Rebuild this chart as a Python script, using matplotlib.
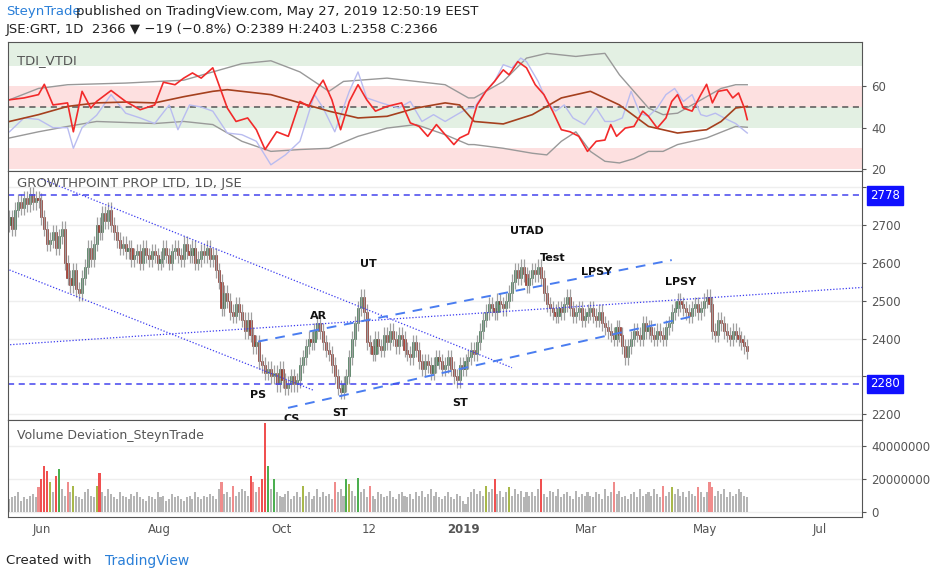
import numpy as np
import pandas as pd
import matplotlib
matplotlib.use("Agg")
import matplotlib.pyplot as plt

# ---------------- data ----------------
closes = [2720,2690,2740,2760,2745,2770,2755,2780,2760,2770,
          2765,2720,2690,2650,2660,2680,2640,2670,2690,2600,
          2560,2540,2580,2530,2520,2560,2590,2640,2610,2650,
          2700,2680,2730,2710,2740,2700,2680,2660,2640,2650,
          2630,2640,2610,2620,2630,2600,2640,2620,2610,2630,
          2620,2600,2610,2640,2620,2600,2630,2640,2620,2610,
          2650,2630,2620,2640,2600,2610,2630,2620,2640,2610,
          2620,2580,2550,2480,2520,2500,2470,2460,2490,2470,
          2450,2420,2450,2410,2380,2390,2340,2330,2310,2320,
          2300,2310,2280,2320,2290,2270,2280,2300,2280,2290,
          2330,2350,2380,2400,2390,2420,2440,2420,2390,2370,
          2360,2330,2300,2270,2260,2280,2300,2350,2400,2440,
          2480,2510,2470,2390,2380,2360,2400,2380,2370,2410,
          2390,2420,2400,2380,2410,2400,2370,2360,2350,2390,
          2370,2340,2320,2340,2330,2310,2330,2350,2340,2320,
          2330,2350,2320,2300,2290,2330,2320,2340,2350,2370,
          2360,2390,2420,2450,2470,2490,2480,2470,2500,2490,
          2480,2500,2520,2550,2580,2560,2590,2570,2540,2560,
          2580,2570,2590,2560,2520,2490,2480,2470,2460,2480,
          2470,2490,2510,2480,2460,2470,2480,2450,2460,2470,
          2480,2460,2450,2470,2440,2430,2420,2410,2400,2430,
          2410,2380,2350,2380,2400,2420,2410,2400,2440,2420,
          2430,2410,2400,2420,2410,2400,2430,2440,2470,2480,
          2500,2490,2480,2470,2460,2480,2490,2470,2480,2500,
          2510,2490,2420,2410,2450,2440,2420,2410,2400,2420,
          2410,2400,2390,2380,2366]
first_open = 2700
volumes_m = [8,9,10,12,7,9,8,10,11,9,
             15,20,28,25,18,12,22,26,14,10,
             18,12,16,10,9,8,12,14,10,9,
             16,24,12,10,14,11,9,8,12,10,
             9,8,11,10,12,9,8,7,10,9,
             8,12,9,10,7,8,11,9,10,8,
             7,9,10,8,12,9,8,10,9,11,
             10,8,14,18,11,12,9,16,10,12,
             14,13,10,22,18,12,15,20,54,28,
             14,20,12,10,9,11,13,8,10,12,
             9,16,10,12,8,10,14,9,12,10,
             11,8,18,12,14,10,20,17,13,10,
             21,12,14,9,16,10,8,12,11,9,
             10,13,9,8,11,12,10,9,11,8,
             12,10,13,9,11,14,10,12,9,8,
             10,12,9,8,11,10,7,5,9,12,
             14,11,13,10,16,12,14,20,11,13,
             9,12,15,10,14,11,13,9,12,10,
             12,10,14,20,11,9,13,12,10,14,
             9,11,12,10,8,13,9,11,10,12,
             10,9,12,11,8,14,10,12,18,11,
             13,9,10,8,11,12,9,14,10,11,
             12,10,14,11,9,16,10,12,15,11,
             14,10,12,9,13,11,10,15,12,9,
             12,18,15,10,13,11,14,9,12,10,
             11,14,12,10,9]

red_idx = [0,5,10,12,15,20,22,25,28,30,35,40,45,50,53,57,60,63,66,70,75,78,82,85,88,92,96,100,103,106,108,111,114,117,120,123,126,130,135,138,141,144,147,150,153,155,158,161,164,167,170,172,175,178,181,184,187,190,193,196,199,202,205,207,209,212,215,218,220,223,226,228,230,232,235,238,240,242,244,247,249,251,253,254]
red_val = [53.5,54.4,56,61,51,52,38,57.6,49.5,52.7,58,52.7,48.7,51,62,60.8,64,66.5,64,69,49.5,43,44.7,39,29.4,38,35.8,52.7,50.3,59,63,53.5,39,52.7,60.8,53.5,48,50.3,52,42.3,40.6,35.8,41.5,36.6,31.8,35,37,51,57.6,62.4,68,65.6,72,69,60.8,56,48,39,38,35.8,28.5,33.4,34,41.5,35.8,39.8,40.6,48,45.5,39.8,44.7,52.7,56,49.5,48,56,61,52,57.6,58.4,54.4,56.8,49.5,43.9]
blue_idx = [0,5,10,15,20,22,25,30,35,40,45,50,55,58,62,66,70,75,80,85,90,95,100,105,108,112,117,120,123,128,134,138,142,146,150,154,158,160,163,167,170,173,176,178,182,185,188,191,194,198,202,205,208,211,214,217,220,223,226,229,232,235,238,240,243,247,250,254]
blue_val = [38,44.7,44,40,40,30,40,46,56,47,44.7,42,51,39,51,50,48,37.4,36.6,33.4,22,26.8,33.4,56,49.5,38,57.6,67,54.4,52,49.5,52.7,43,46.3,43,46.3,49.5,49.5,56,62.4,70.5,69,73.7,72,62.4,52.7,48,51,44.7,41.5,49.5,43,43,44.7,57.6,47,45.5,49.5,56,59,52.7,56,46.3,45.5,47,44,42,37.4]
ma_idx = [0,10,20,30,40,50,60,70,75,80,90,100,110,120,130,140,150,155,160,170,180,190,200,210,220,230,240,245,250,254]
ma_val = [43,46.3,50.3,52,52.4,52,55,57.6,58.4,57.6,56,52,48,44.7,45.5,49.5,52,51,43,41.8,46.3,54.4,57.6,51,40.6,37.4,39,43,49.5,50.3]
up_idx = [0,10,20,40,60,70,80,90,100,110,115,130,150,158,160,170,178,185,195,200,205,210,220,225,230,240,245,250,254]
up_val = [53.5,59,60.8,61.6,63,67,71,72.4,67,57.6,62.4,64,60.8,54.4,54.4,62.4,73.7,76,74.5,75.3,76,65.6,49.5,46.3,47,55,59,60.8,60.8]
lo_idx = [0,10,20,30,50,60,70,80,90,100,110,120,130,140,150,158,160,170,180,185,190,195,200,205,210,215,220,225,230,240,250,254]
lo_val = [35,38,40.6,43,42,43,41.5,33.4,28.5,29.4,30,35.8,39.8,41.5,36.6,31.8,31.8,30,27.6,26.8,33.4,38,28.5,23.7,22.9,25,28.5,28.5,31.8,35,40.6,40.2]

# trend lines: (index0, price0, index1, price1)
dotted_lines = [(11, 2821, 173, 2323), (-3, 2590, 104.5, 2264), (-3, 2382, 294, 2535)]
dashed_lines = [(85.6, 2392, 228, 2607), (95.9, 2217, 235.4, 2459)]
levels = [2778, 2280]
wyckoff_labels = ["PS", "AR", "UT", "CS", "ST", "ST", "UTAD", "Test", "LPSY", "LPSY"]
wyckoff_idx = [85.6, 106.5, 123.7, 97, 114, 155, 178, 187, 202, 231]
wyckoff_price = [2251, 2460, 2596, 2188, 2203, 2230, 2683, 2612, 2575, 2548]
month_labels = ["Jun", "Aug", "Oct", "12", "2019", "Mar", "May", "Jul"]
month_pos = [11, 51.5, 93.8, 123.7, 156.4, 198.6, 239.5, 279]
price_ticks = [2200, 2300, 2400, 2500, 2600, 2700, 2800]
price_tick_labels = ["2200", "", "2400", "2500", "2600", "2700", ""]

# ---------------- figure ----------------
plt.rcParams["font.family"] = "DejaVu Sans"
W, H = 939, 579
fig = plt.figure(figsize=(W/100, H/100), dpi=100)
L, R = 8/W, 862/W
def ax_at(top, bot):
    return fig.add_axes([L, 1-bot/H, R-L, (bot-top)/H])
ax1 = ax_at(42, 171)
ax2 = ax_at(171, 420)
ax3 = ax_at(420, 517)

n = len(closes)
idx = np.arange(n)
opens = [first_open] + closes[:-1]
xlim = (-0.5, 293.5)

GREEN, RED, WICK = "#4a8c5e", "#b23a2c", "#a0a0a0"
for ax in (ax1, ax2, ax3):
    ax.set_xlim(*xlim)
    ax.set_xticks(month_pos)
    ax.tick_params(axis="x", length=0, labelbottom=False)
    ax.yaxis.tick_right()
    ax.tick_params(axis="y", labelsize=8.5, colors="#555555", length=3)
    for s in ax.spines.values():
        s.set_color("#555555")

# ---- TDI panel ----
ax1.set_ylim(19, 81.5)
ax1.axhspan(70, 82, color="#e3f0e3", lw=0)
ax1.axhspan(50, 60, color="#fde0e0", lw=0)
ax1.axhspan(40, 50, color="#e3f0e3", lw=0)
ax1.axhspan(20, 30, color="#fde0e0", lw=0)
ax1.axhline(50, color="#555555", ls=(0, (4, 3)), lw=1.1)
ax1.plot(up_idx, up_val, color="#999999", lw=1)
ax1.plot(lo_idx, lo_val, color="#999999", lw=1)
ax1.plot(blue_idx, blue_val, color="#b9bcf0", lw=1)
ax1.plot(ma_idx, ma_val, color="#a5401e", lw=1.2)
ax1.plot(red_idx, red_val, color="#f22a2a", lw=1.2)
ax1.set_yticks([20, 40, 60])
ax1.text(0.01, 0.86, "TDI_VTDI", transform=ax1.transAxes, fontsize=9.5, color="#555555", va="center")

# ---- price panel ----
ax2.set_ylim(2185, 2842)
ax2.set_yticks(price_ticks)
ax2.set_yticklabels(price_tick_labels)
ax2.grid(axis="y", color="#eeeeee", lw=1)
ax2.set_axisbelow(True)
for i in idx:
    o, c = opens[i], closes[i]
    hi, lo = max(o, c) + 20, min(o, c) - 20
    ax2.vlines(i, lo, hi, color=WICK, lw=0.9)
    up = c >= o
    ax2.bar(i, max(abs(c - o), 3), bottom=min(o, c), width=0.75,
            color=GREEN if up else RED, edgecolor="#2b5e3c" if up else "#6e1e16", lw=0.4)
for x0, y0, x1, y1 in dotted_lines:
    ax2.plot([x0, x1], [y0, y1], color="#3b3bf0", lw=0.9, ls=(0, (1, 1.5)))
for x0, y0, x1, y1 in dashed_lines:
    ax2.plot([x0, x1], [y0, y1], color="#4a7df0", lw=1.4, ls=(0, (5, 4)))
for lv in levels:
    ax2.axhline(lv, color="#4444ee", lw=1.1, ls=(0, (4, 3)))
    ax2.annotate(str(lv), xy=(1.0, lv), xycoords=("axes fraction", "data"), xytext=(6, 0),
                 textcoords="offset points", va="center", ha="left", fontsize=8.5, color="white",
                 bbox=dict(boxstyle="square,pad=0.25", fc="#1010ff", ec="#1010ff"))
for lab, xi, pr in zip(wyckoff_labels, wyckoff_idx, wyckoff_price):
    ax2.text(xi, pr, lab, fontsize=8, fontweight="bold", ha="center", va="center", color="#111111", clip_on=True)
ax2.text(0.01, 0.95, "GROWTHPOINT PROP LTD, 1D, JSE", transform=ax2.transAxes, fontsize=9.5, color="#555555", va="center")

# ---- volume panel ----
ax3.set_ylim(-3e6, 56e6)
ax3.set_yticks([0, 20000000, 40000000])
ax3.set_yticklabels(["0", "20000000", "40000000"])
ax3.grid(axis="y", color="#eeeeee", lw=1)
ax3.set_axisbelow(True)
vcols = []
for i in idx:
    up = closes[i] >= opens[i]
    v = volumes_m[i]
    if v >= 20:
        vcols.append("#4caf50" if up else "#f05050")
    elif v >= 15:
        vcols.append("#a8b84a" if up else "#f08c8c")
    else:
        vcols.append("#b5b5b5")
ax3.bar(idx, np.array(volumes_m) * 1e6, width=0.7, color=vcols, lw=0)
ax3.text(0.01, 0.84, "Volume Deviation_SteynTrade", transform=ax3.transAxes, fontsize=9, color="#555555", va="center")
ax3.tick_params(axis="x", labelbottom=True, labelsize=8.5, colors="#555555", pad=4)
ax3.set_xticklabels(month_labels)
for lbl in ax3.get_xticklabels():
    if lbl.get_text() == "2019":
        lbl.set_fontweight("bold")

# ---- header / footer ----
fig.text(6/W, 1-12/H, "SteynTrade", color="#2a7fd8", fontsize=9.5, va="center")
fig.text(76/W, 1-12/H, "published on TradingView.com, May 27, 2019 12:50:19 EEST", color="#222222", fontsize=9.5, va="center")
fig.text(6/W, 1-30/H, "JSE:GRT, 1D  2366 \u25bc \u221219 (\u22120.8%) O:2389 H:2403 L:2358 C:2366",
         color="#222222", fontsize=9.5, va="center")
fig.text(6/W, 1-561/H, "Created with", color="#222222", fontsize=9.5, va="center")
fig.text(105/W, 1-561/H, "TradingView", color="#2a7fd8", fontsize=10, va="center")

fig.savefig("out.png", dpi=100, facecolor="white")
